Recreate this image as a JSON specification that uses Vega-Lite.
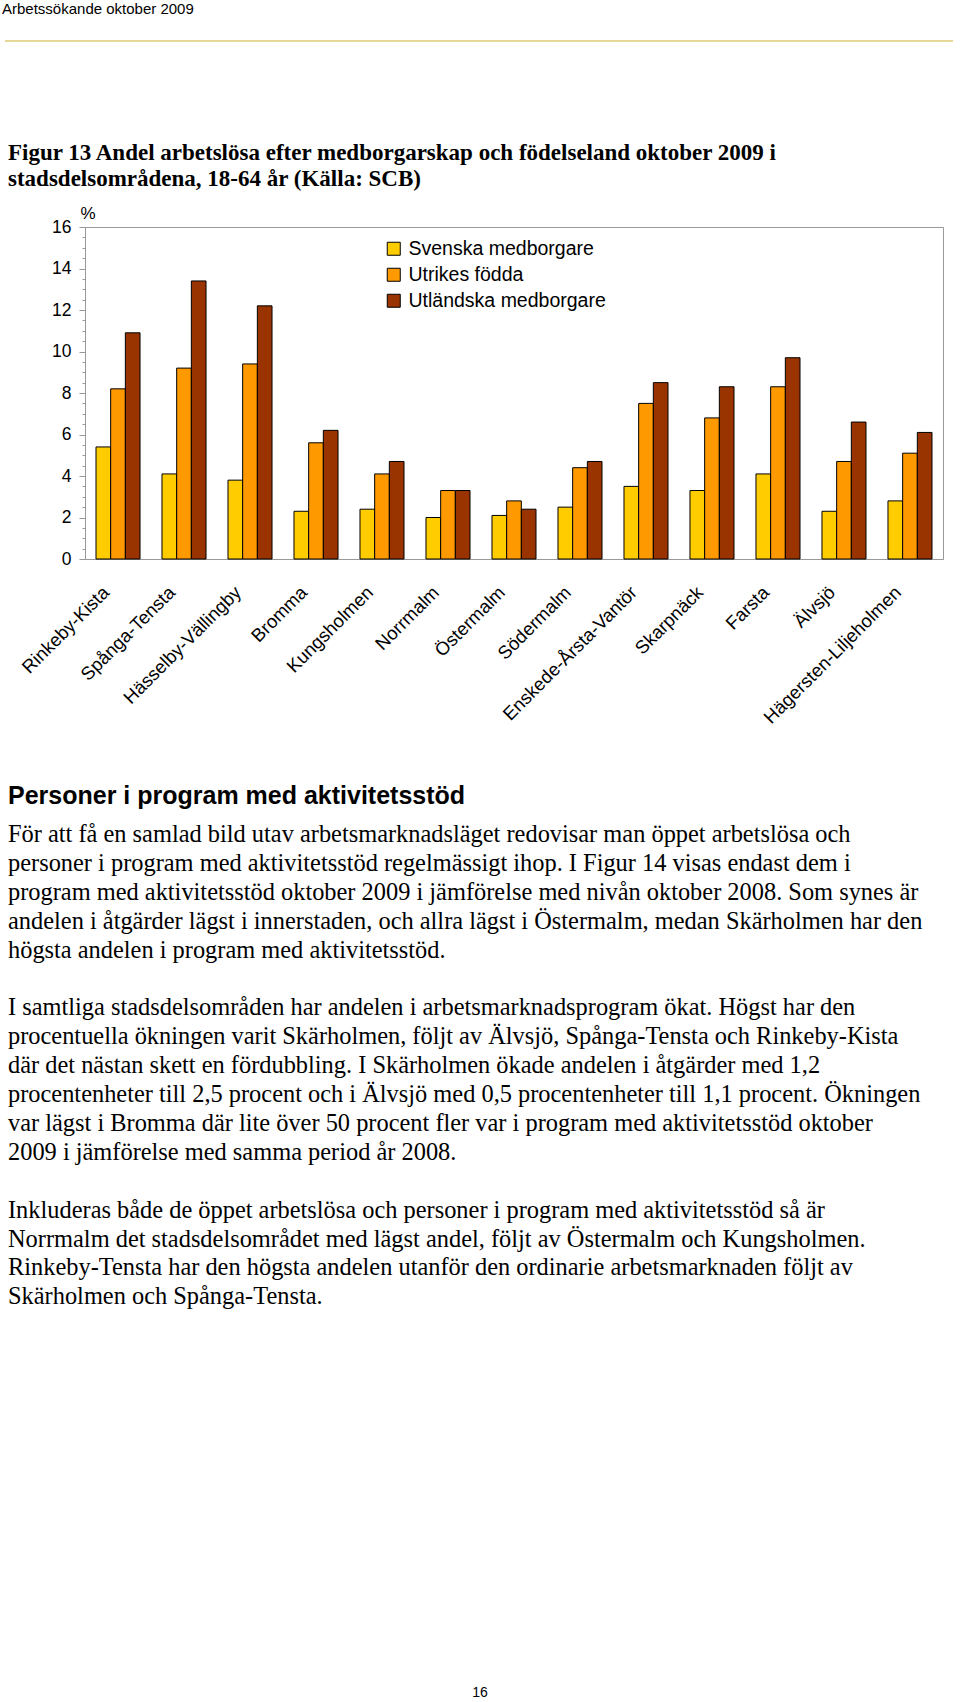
{
  "$schema": "https://vega.github.io/schema/vega-lite/v6.json",
  "background": "white",
  "padding": {"left": 2, "top": 2, "right": 4, "bottom": 2},
  "bounds": "flush",
  "spacing": 186,
  "resolve": {"scale": {"color": "independent"}, "legend": {"color": "independent"}},
  "config": {
    "view": {"stroke": null},
    "font": "Liberation Sans",
    "axis": {"labelFont": "Liberation Sans", "titleFont": "Liberation Sans", "labelColor": "#000", "titleColor": "#000"},
    "legend": {"labelFont": "Liberation Sans", "labelColor": "#000"}
  },
  "vconcat": [
    {
      "width": 858,
      "height": 10,
      "title": {"text": "Arbetssökande oktober 2009", "anchor": "start", "frame": "group", "dx": -83, "font": "Liberation Sans", "fontSize": 15, "fontWeight": "normal", "color": "#000", "offset": 14},
      "data": {"values": [{}]},
      "mark": {"type": "rule", "color": "#E6D796", "strokeWidth": 2},
      "encoding": {
        "x": {"datum": 0, "type": "quantitative", "scale": {"domain": [0, 1], "range": [-80, 868]}, "axis": null},
        "x2": {"datum": 1},
        "y": {"datum": 0, "type": "quantitative", "scale": {"domain": [0, 1]}, "axis": null}
      }
    },
    {
      "width": 858,
      "height": 332,
      "view": {"stroke": "#999999", "strokeWidth": 1},
      "title": {
        "text": ["Figur 13 Andel arbetslösa efter medborgarskap och födelseland oktober 2009 i", "stadsdelsområdena, 18-64 år (Källa: SCB)"],
        "anchor": "start", "frame": "group", "dx": -77, "font": "Liberation Serif", "fontSize": 23, "fontWeight": "bold", "lineHeight": 26, "offset": 13, "color": "#000"
      },
      "data": {"values": [
        {"district": "Rinkeby-Kista", "group": "Svenska medborgare", "value": 5.4},
        {"district": "Rinkeby-Kista", "group": "Utrikes födda", "value": 8.2},
        {"district": "Rinkeby-Kista", "group": "Utländska medborgare", "value": 10.9},
        {"district": "Spånga-Tensta", "group": "Svenska medborgare", "value": 4.1},
        {"district": "Spånga-Tensta", "group": "Utrikes födda", "value": 9.2},
        {"district": "Spånga-Tensta", "group": "Utländska medborgare", "value": 13.4},
        {"district": "Hässelby-Vällingby", "group": "Svenska medborgare", "value": 3.8},
        {"district": "Hässelby-Vällingby", "group": "Utrikes födda", "value": 9.4},
        {"district": "Hässelby-Vällingby", "group": "Utländska medborgare", "value": 12.2},
        {"district": "Bromma", "group": "Svenska medborgare", "value": 2.3},
        {"district": "Bromma", "group": "Utrikes födda", "value": 5.6},
        {"district": "Bromma", "group": "Utländska medborgare", "value": 6.2},
        {"district": "Kungsholmen", "group": "Svenska medborgare", "value": 2.4},
        {"district": "Kungsholmen", "group": "Utrikes födda", "value": 4.1},
        {"district": "Kungsholmen", "group": "Utländska medborgare", "value": 4.7},
        {"district": "Norrmalm", "group": "Svenska medborgare", "value": 2.0},
        {"district": "Norrmalm", "group": "Utrikes födda", "value": 3.3},
        {"district": "Norrmalm", "group": "Utländska medborgare", "value": 3.3},
        {"district": "Östermalm", "group": "Svenska medborgare", "value": 2.1},
        {"district": "Östermalm", "group": "Utrikes födda", "value": 2.8},
        {"district": "Östermalm", "group": "Utländska medborgare", "value": 2.4},
        {"district": "Södermalm", "group": "Svenska medborgare", "value": 2.5},
        {"district": "Södermalm", "group": "Utrikes födda", "value": 4.4},
        {"district": "Södermalm", "group": "Utländska medborgare", "value": 4.7},
        {"district": "Enskede-Årsta-Vantör", "group": "Svenska medborgare", "value": 3.5},
        {"district": "Enskede-Årsta-Vantör", "group": "Utrikes födda", "value": 7.5},
        {"district": "Enskede-Årsta-Vantör", "group": "Utländska medborgare", "value": 8.5},
        {"district": "Skarpnäck", "group": "Svenska medborgare", "value": 3.3},
        {"district": "Skarpnäck", "group": "Utrikes födda", "value": 6.8},
        {"district": "Skarpnäck", "group": "Utländska medborgare", "value": 8.3},
        {"district": "Farsta", "group": "Svenska medborgare", "value": 4.1},
        {"district": "Farsta", "group": "Utrikes födda", "value": 8.3},
        {"district": "Farsta", "group": "Utländska medborgare", "value": 9.7},
        {"district": "Älvsjö", "group": "Svenska medborgare", "value": 2.3},
        {"district": "Älvsjö", "group": "Utrikes födda", "value": 4.7},
        {"district": "Älvsjö", "group": "Utländska medborgare", "value": 6.6},
        {"district": "Hägersten-Liljeholmen", "group": "Svenska medborgare", "value": 2.8},
        {"district": "Hägersten-Liljeholmen", "group": "Utrikes födda", "value": 5.1},
        {"district": "Hägersten-Liljeholmen", "group": "Utländska medborgare", "value": 6.1}
      ]},
      "mark": {"type": "bar", "stroke": "#000", "strokeWidth": 1},
      "encoding": {
        "x": {
          "field": "district", "type": "nominal", "sort": null,
          "scale": {"paddingInner": 0.333, "paddingOuter": 0.1667},
          "axis": {"title": null, "labelAngle": -45, "labelAlign": "right", "labelBaseline": "middle", "labelFontSize": 18.5, "labelPadding": 30, "labelOffset": -12, "labelLimit": 0, "ticks": false, "domainColor": "#999999", "labelOverlap": false}
        },
        "xOffset": {"field": "group", "type": "nominal", "sort": ["Svenska medborgare", "Utrikes födda", "Utländska medborgare"], "scale": {"paddingInner": 0, "paddingOuter": 0}},
        "y": {
          "field": "value", "type": "quantitative",
          "scale": {"domain": [0, 16], "nice": false},
          "axis": {
            "values": [0, 0.5, 1, 1.5, 2, 2.5, 3, 3.5, 4, 4.5, 5, 5.5, 6, 6.5, 7, 7.5, 8, 8.5, 9, 9.5, 10, 10.5, 11, 11.5, 12, 12.5, 13, 13.5, 14, 14.5, 15, 15.5, 16],
            "labelExpr": "datum.value % 2 === 0 ? format(datum.value, 'd') : ''",
            "labelOverlap": false,
            "grid": false,
            "title": "%", "titleAngle": 0, "titleX": -5, "titleY": -5, "titleAlign": "left", "titleBaseline": "bottom", "titleFontSize": 17, "titleFontWeight": "normal",
            "tickSize": {"condition": {"test": "datum.value % 2 === 0", "value": 6}, "value": 3},
            "tickColor": "#999999", "domainColor": "#999999",
            "labelFontSize": 17.5, "labelPadding": 8
          }
        },
        "color": {
          "field": "group", "type": "nominal",
          "scale": {"domain": ["Svenska medborgare", "Utrikes födda", "Utländska medborgare"], "range": ["#FFCC00", "#FF9900", "#993300"]},
          "legend": {"title": null, "orient": "none", "legendX": 299, "legendY": 12, "symbolType": "square", "symbolSize": 169, "symbolStrokeColor": "#000", "symbolStrokeWidth": 1, "symbolOpacity": 1, "labelFontSize": 19.5, "labelLimit": 0, "rowPadding": 5, "labelOffset": 5, "padding": 0}
        }
      }
    },
    {
      "width": 858,
      "height": 20,
      "title": {
        "text": "Personer i program med aktivitetsstöd",
        "orient": "bottom", "anchor": "start", "frame": "group", "dx": -77,
        "font": "Liberation Sans", "fontSize": 25, "fontWeight": "bold", "color": "#000", "offset": 19,
        "subtitle": [
          "För att få en samlad bild utav arbetsmarknadsläget redovisar man öppet arbetslösa och",
          "personer i program med aktivitetsstöd regelmässigt ihop. I Figur 14 visas endast dem i",
          "program med aktivitetsstöd oktober 2009 i jämförelse med nivån oktober 2008. Som synes är",
          "andelen i åtgärder lägst i innerstaden, och allra lägst i Östermalm, medan Skärholmen har den",
          "högsta andelen i program med aktivitetsstöd.",
          "\u200b",
          "I samtliga stadsdelsområden har andelen i arbetsmarknadsprogram ökat. Högst har den",
          "procentuella ökningen varit Skärholmen, följt av Älvsjö, Spånga-Tensta och Rinkeby-Kista",
          "där det nästan skett en fördubbling. I Skärholmen ökade andelen i åtgärder med 1,2",
          "procentenheter till 2,5 procent och i Älvsjö med 0,5 procentenheter till 1,1 procent. Ökningen",
          "var lägst i Bromma där lite över 50 procent fler var i program med aktivitetsstöd oktober",
          "2009 i jämförelse med samma period år 2008.",
          "\u200b",
          "Inkluderas både de öppet arbetslösa och personer i program med aktivitetsstöd så är",
          "Norrmalm det stadsdelsområdet med lägst andel, följt av Östermalm och Kungsholmen.",
          "Rinkeby-Tensta har den högsta andelen utanför den ordinarie arbetsmarknaden följt av",
          "Skärholmen och Spånga-Tensta."
        ],
        "subtitleFont": "Liberation Serif", "subtitleFontSize": 24.4, "subtitleColor": "#000", "subtitleLineHeight": 28.9, "subtitlePadding": 14
      },
      "data": {"values": []},
      "mark": "point"
    },
    {
      "width": 790,
      "height": 720,
      "title": {"text": "16", "orient": "bottom", "anchor": "middle", "frame": "group", "font": "Liberation Sans", "fontSize": 14, "fontWeight": "normal", "color": "#000", "offset": 15},
      "data": {"values": []},
      "mark": "point"
    }
  ]
}
